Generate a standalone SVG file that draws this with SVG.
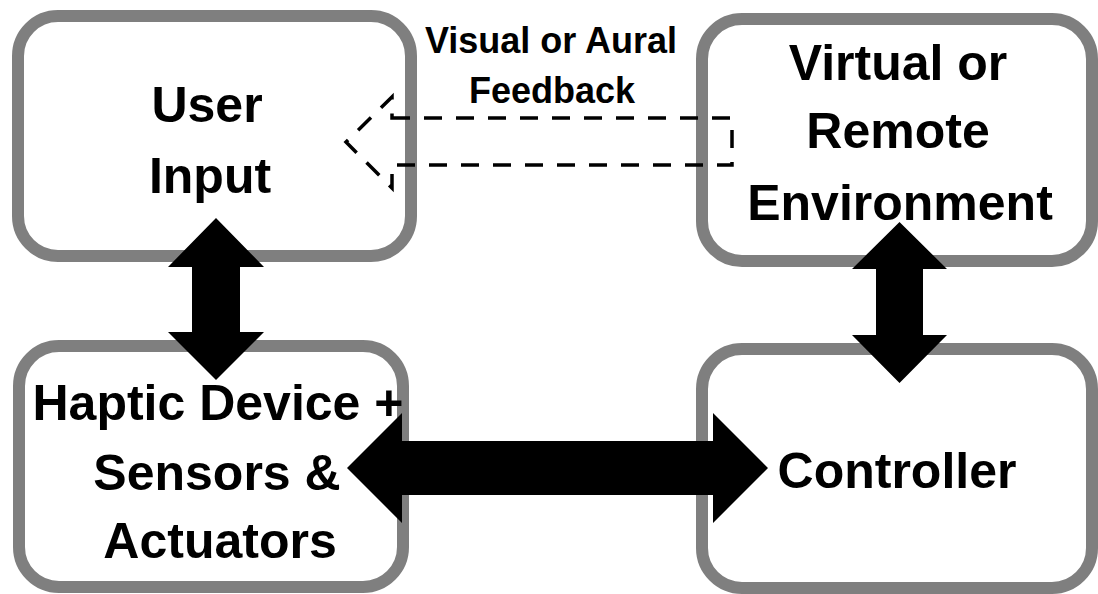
<svg xmlns="http://www.w3.org/2000/svg" width="1098" height="594" viewBox="0 0 1098 594">
  <style>
    .box { fill: #ffffff; stroke: #7f7f7f; stroke-width: 12; }
    .lbl { font-family: "Liberation Sans", Arial, sans-serif; font-weight: bold; fill: #000000; text-anchor: middle; }
    .big { font-size: 50px; }
    .small { font-size: 36px; }
    .solid { fill: #000000; stroke: none; }
    .dashed { fill: none; stroke: #000000; stroke-width: 3.5; stroke-dasharray: 18 14; stroke-linejoin: miter; }
  </style>
  <rect width="1098" height="594" fill="#ffffff"/>

  <g id="user-input">
    <rect class="box" x="18" y="16" width="393" height="240" rx="40" ry="40"/>
    <text class="lbl big" x="207" y="122">User</text>
    <text class="lbl big" x="210" y="193">Input</text>
  </g>

  <g id="virtual-env">
    <rect class="box" x="702" y="19" width="390" height="242" rx="40" ry="40"/>
    <text class="lbl big" x="898" y="80">Virtual or</text>
    <text class="lbl big" x="898" y="148">Remote</text>
    <text class="lbl big" x="900" y="220">Environment</text>
  </g>

  <g id="haptic-device">
    <rect class="box" x="19" y="346" width="384" height="241" rx="40" ry="40"/>
    <text class="lbl big" x="218" y="420">Haptic Device +</text>
    <text class="lbl big" x="217" y="490">Sensors &amp;</text>
    <text class="lbl big" x="220" y="558">Actuators</text>
  </g>

  <g id="controller">
    <rect class="box" x="702" y="349" width="390" height="239" rx="40" ry="40"/>
    <text class="lbl big" x="897" y="488">Controller</text>
  </g>

  <g id="connectors">
    <polygon class="dashed" points="392,118 732,118 732,165 392,165 392,188 346,142 392,97"/>
    <polygon class="solid" points="216,218 264,267 240,267 240,332 264,332 216,380 168,332 192,332 192,267 168,267"/>
    <polygon class="solid" points="899.5,222 947,269 923,269 923,335 947,335 899.5,383 852,335 876,335 876,269 852,269"/>
    <polygon class="solid" points="347,468 402,413 402,441 713,441 713,413 768,468 713,523 713,495 402,495 402,523"/>
  </g>

  <g id="feedback-label">
    <text class="lbl small" x="551" y="53">Visual or Aural</text>
    <text class="lbl small" x="552" y="103">Feedback</text>
  </g>
</svg>
